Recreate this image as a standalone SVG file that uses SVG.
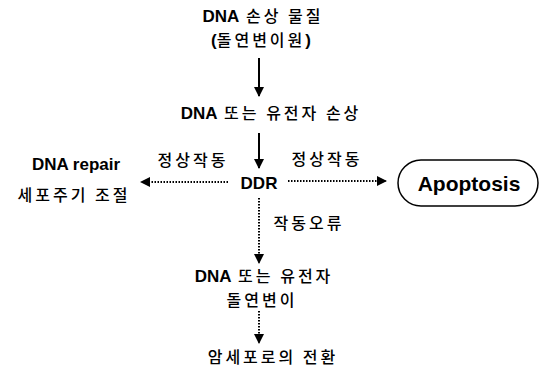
<svg xmlns="http://www.w3.org/2000/svg" width="541" height="372" viewBox="0 0 541 372">
<defs>
<style>
text{font-family:"Liberation Sans","Noto Sans CJK KR",sans-serif;font-size:17px;fill:#000;text-anchor:middle}
.b{font-weight:bold}
.k{font-family:"Noto Sans CJK KR",sans-serif;font-weight:500;font-size:16px;letter-spacing:3px}
.solid{stroke:#000;stroke-width:2;fill:none}
.dot{stroke:#000;stroke-width:2;fill:none;stroke-dasharray:1.5 1.5}
</style>
<marker id="ah" markerWidth="10" markerHeight="10" refX="9" refY="5" orient="auto" markerUnits="userSpaceOnUse">
<path d="M0,0 L10,5 L0,10 Z" fill="#000"/>
</marker>
</defs>
<rect width="541" height="372" fill="#fff"/>
<g id="connectors">
<line class="solid" x1="259" y1="58" x2="259" y2="96" marker-end="url(#ah)"/>
<line class="solid" x1="259" y1="133" x2="259" y2="168" marker-end="url(#ah)"/>
<line class="dot" x1="228" y1="182" x2="141" y2="182" marker-end="url(#ah)"/>
<line class="dot" x1="288" y1="181" x2="386" y2="181" marker-end="url(#ah)"/>
<line class="dot" x1="259" y1="198" x2="259" y2="263" marker-end="url(#ah)"/>
<line class="dot" x1="259" y1="311" x2="259" y2="343" marker-end="url(#ah)"/>
</g>
<g id="n-source">
<text x="263" y="22"><tspan class="b">DNA</tspan><tspan class="k">  손상 물질</tspan></text>
<text x="261" y="46"><tspan class="b">(</tspan><tspan class="k">돌연변이원</tspan><tspan class="b">)</tspan></text>
</g>
<g id="n-damage">
<text x="271" y="119"><tspan class="b">DNA</tspan><tspan class="k"> 또는 유전자 손상</tspan></text>
</g>
<g id="n-ddr">
<text class="b" x="259" y="189">DDR</text>
</g>
<g id="n-repair">
<text class="b" x="76" y="170">DNA repair</text>
<text class="k" x="74" y="201">세포주기 조절</text>
</g>
<g id="n-apoptosis">
<rect x="398" y="160" width="140" height="46" rx="23" ry="23" fill="#fff" stroke="#000" stroke-width="1.5"/>
<text class="b" x="469" y="191" style="font-size:21px">Apoptosis</text>
</g>
<g id="n-mutation">
<text x="264" y="282"><tspan class="b">DNA</tspan><tspan class="k"> 또는 유전자</tspan></text>
<text class="k" x="262" y="306">돌연변이</text>
</g>
<g id="n-cancer">
<text class="k" x="273" y="363">암세포로의 전환</text>
</g>
<g id="labels">
<text class="k" x="193" y="166">정상작동</text>
<text class="k" x="327" y="165">정상작동</text>
<text class="k" x="309" y="229">작동오류</text>
</g>
</svg>
